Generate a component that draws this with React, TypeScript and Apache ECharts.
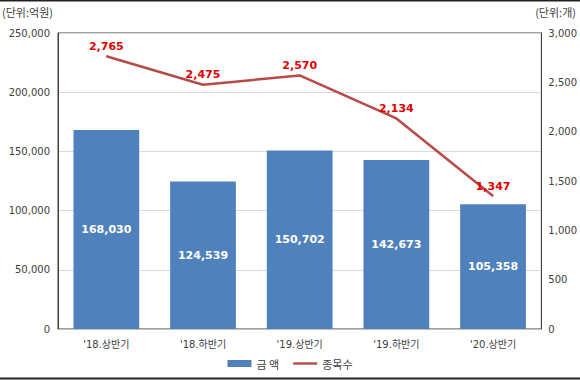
import React, { useEffect, useRef } from "react";
import * as echarts from "echarts";

const categories = ["'18.상반기", "'18.하반기", "'19.상반기", "'19.하반기", "'20.상반기"];
const amountValues = [168030, 124539, 150702, 142673, 105358];
const countValues = [2765, 2475, 2570, 2134, 1347];
const leftTicks = { min: 0, max: 250000, interval: 50000 };
const rightTicks = { min: 0, max: 3000, interval: 500 };

const FONT = "'DejaVu Sans', 'Noto Sans CJK KR', sans-serif";
const KFONT = "'Noto Sans CJK KR', 'Noto Sans', sans-serif";

export default function App() {
  const ref = useRef<HTMLDivElement>(null);
  useEffect(() => {
    document.body.style.margin = "0";
    const chart = echarts.init(ref.current!, undefined, { renderer: "svg" });
    const fmt = (v: number) => v.toLocaleString("en-US");
    chart.setOption({
      animation: false,
      backgroundColor: "#ffffff",
      textStyle: { fontFamily: FONT },
      grid: {
        left: 58,
        right: 29,
        top: 33,
        bottom: 51,
        show: true,
        borderColor: "#404040",
        borderWidth: 1,
        containLabel: false,
      },
      legend: {
        bottom: 6,
        left: "center",
        itemWidth: 24,
        itemHeight: 7,
        itemGap: 14,
        textStyle: { fontSize: 11, color: "#404040", fontFamily: KFONT },
        data: [
          { name: "금 액", icon: "rect" },
          { name: "종목수", icon: "path://M0,0 L30,0 L30,3 L0,3 Z", itemStyle: { color: "#b84a47" } },
        ],
      },
      graphic: [
        {
          type: "text",
          left: 2,
          top: 6,
          style: { text: "(단위:억원)", fontSize: 11, fill: "#404040", fontFamily: KFONT },
        },
        {
          type: "text",
          right: 4,
          top: 6,
          style: { text: "(단위:개)", fontSize: 11, fill: "#404040", fontFamily: KFONT },
        },
        {
          type: "line",
          shape: { x1: 0, y1: 0.5, x2: 580, y2: 0.5 },
          style: { stroke: "#222", lineWidth: 2 },
        },
        {
          type: "line",
          shape: { x1: 0, y1: 378.5, x2: 580, y2: 378.5 },
          style: { stroke: "#222", lineWidth: 2 },
        },
      ],
      xAxis: {
        type: "category",
        data: categories,
        axisLine: { show: true, lineStyle: { color: "#bfbfbf", width: 1 } },
        axisTick: { show: false },
        axisLabel: { fontSize: 10, color: "#404040", margin: 10, fontFamily: FONT },
      },
      yAxis: [
        {
          type: "value",
          min: leftTicks.min,
          max: leftTicks.max,
          interval: leftTicks.interval,
          axisLine: { show: true, lineStyle: { color: "#404040" } },
          axisTick: { show: false },
          splitLine: { lineStyle: { color: "#d9d9d9" } },
          axisLabel: { fontSize: 10, color: "#404040", margin: 8, formatter: fmt, fontFamily: FONT },
        },
        {
          type: "value",
          min: rightTicks.min,
          max: rightTicks.max,
          interval: rightTicks.interval,
          axisLine: { show: true, lineStyle: { color: "#404040" } },
          axisTick: { show: false },
          splitLine: { show: false },
          axisLabel: { fontSize: 10, color: "#404040", margin: 7, formatter: fmt, fontFamily: FONT },
        },
      ],
      series: [
        {
          name: "금 액",
          type: "bar",
          data: amountValues,
          barWidth: "68%",
          itemStyle: { color: "#4f81bd" },
          label: {
            show: true,
            position: "inside",
            color: "#ffffff",
            fontWeight: "bold",
            fontSize: 11,
            fontFamily: FONT,
            formatter: (p: any) => fmt(p.value),
          },
        },
        {
          name: "종목수",
          type: "line",
          yAxisIndex: 1,
          data: countValues,
          symbol: "circle",
          symbolSize: 1,
          showSymbol: true,
          lineStyle: { color: "#b84a47", width: 2.5 },
          itemStyle: { color: "#b84a47" },
          label: {
            show: true,
            position: "top",
            distance: 4,
            color: "#e00000",
            fontWeight: "bold",
            fontSize: 11,
            fontFamily: FONT,
            formatter: (p: any) => fmt(p.value),
          },
        },
      ],
    });
    return () => chart.dispose();
  }, []);
  return <div ref={ref} style={{ width: 580, height: 380 }} />;
}
